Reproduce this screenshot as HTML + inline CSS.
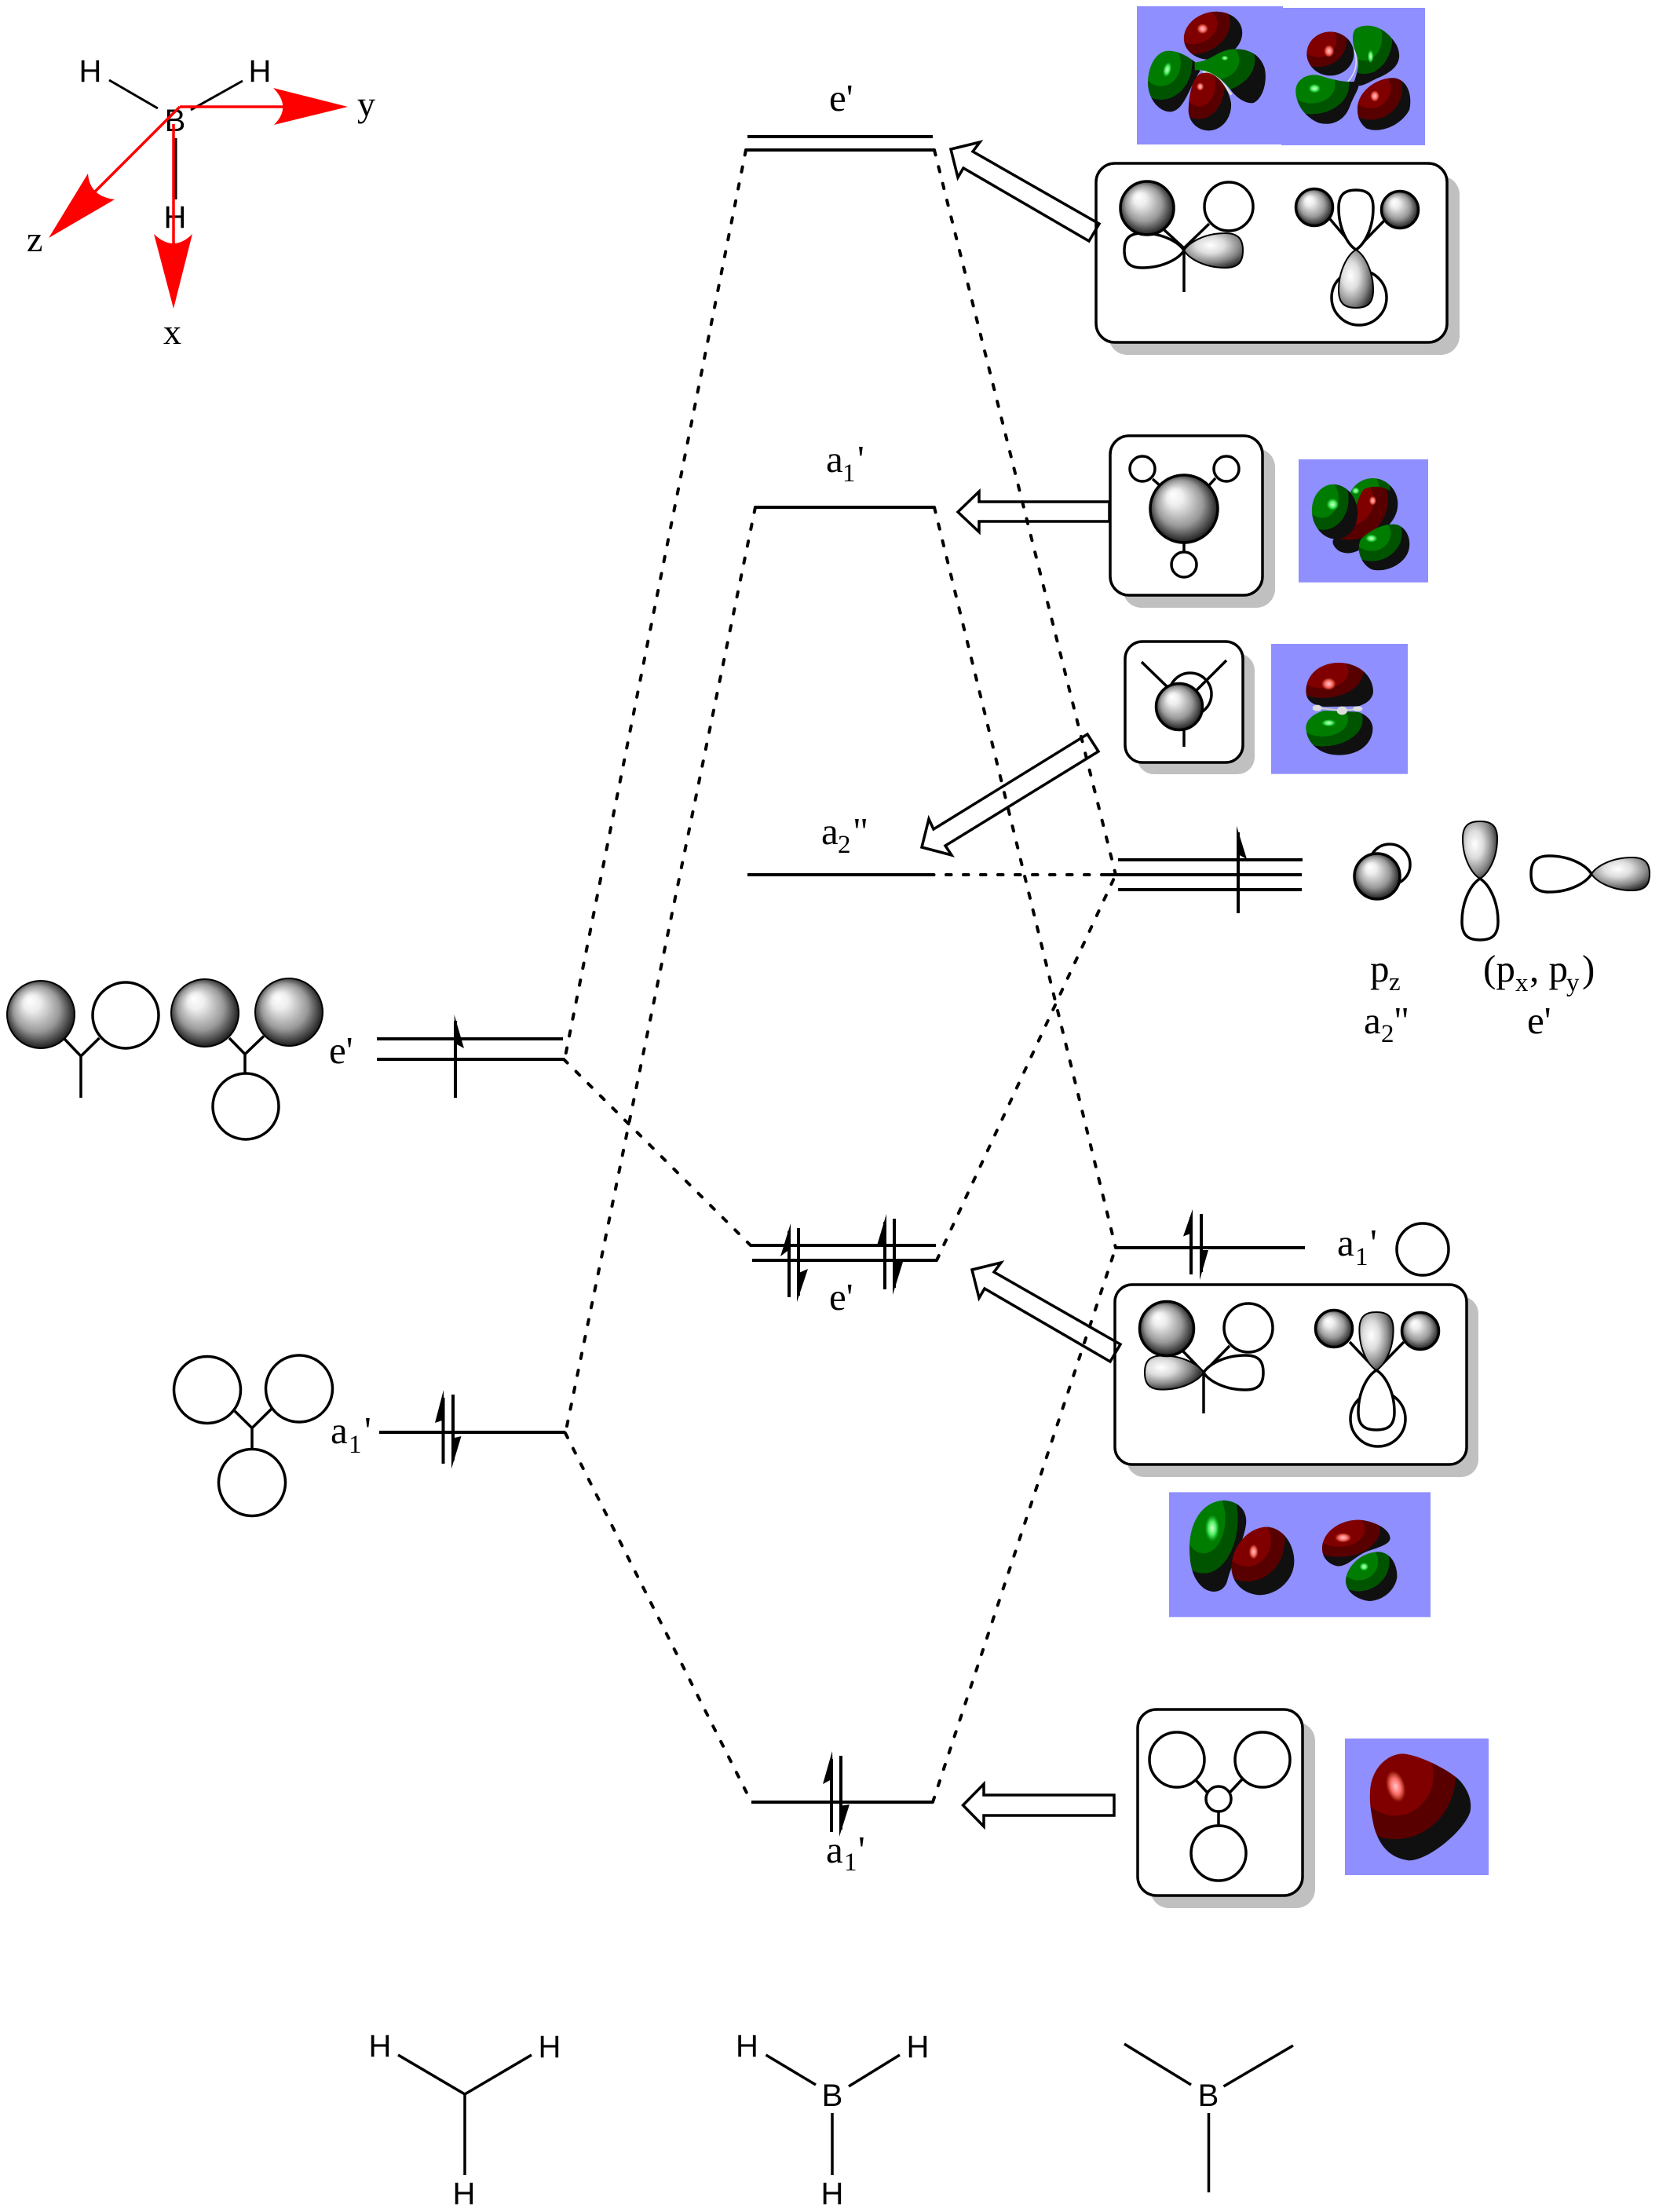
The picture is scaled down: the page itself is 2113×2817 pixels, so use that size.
<!DOCTYPE html>
<html lang="en">
<head>
<meta charset="utf-8">
<title>BH3 molecular orbital diagram</title>
<style>
html,body{margin:0;padding:0;background:#fff}
svg{display:block}
.s{font-family:"Liberation Serif",serif;font-size:49px;fill:#000}
.u{font-family:"Liberation Serif",serif;font-size:33px;fill:#000}
.h{font-family:"Liberation Sans",sans-serif;font-size:40px;fill:#000;text-anchor:middle}
.k{stroke:#000;stroke-width:3.5;fill:none}
.o{stroke:#000;stroke-width:3.5;fill:#fff}
.lv{stroke:#000;stroke-width:4;fill:none}
.d{stroke:#000;stroke-width:4;fill:none;stroke-dasharray:6.5 15.5;stroke-linecap:round}
.b{stroke:#000;stroke-width:3.5;fill:#fff}
.sh{fill:#c0c0c0}
.e{stroke:#000;stroke-width:3;fill:none}
.ar{fill:#000;stroke:none}
.p{fill:#8f8fff}
</style>
</head>
<body>
<svg xmlns="http://www.w3.org/2000/svg" width="2113" height="2817" viewBox="0 0 2113 2817">
<defs>
<radialGradient id="S" cx=".5" cy=".5" r=".55" fx=".33" fy=".28"><stop offset="0" stop-color="#fff"/><stop offset=".22" stop-color="#eee"/><stop offset=".62" stop-color="#999"/><stop offset=".88" stop-color="#333"/><stop offset="1" stop-color="#000"/></radialGradient>
<radialGradient id="GR" cx=".45" cy=".35" r=".68"><stop offset="0" stop-color="#fff"/><stop offset=".35" stop-color="#ddd"/><stop offset=".72" stop-color="#888"/><stop offset="1" stop-color="#333"/></radialGradient>
<radialGradient id="GL" cx=".72" cy=".65" r=".68"><stop offset="0" stop-color="#fff"/><stop offset=".35" stop-color="#ddd"/><stop offset=".72" stop-color="#888"/><stop offset="1" stop-color="#333"/></radialGradient>
<radialGradient id="GU" cx=".6" cy=".35" r=".68"><stop offset="0" stop-color="#fff"/><stop offset=".35" stop-color="#ddd"/><stop offset=".72" stop-color="#888"/><stop offset="1" stop-color="#333"/></radialGradient>
<radialGradient id="GD" cx=".45" cy=".65" r=".68"><stop offset="0" stop-color="#fff"/><stop offset=".35" stop-color="#ddd"/><stop offset=".72" stop-color="#888"/><stop offset="1" stop-color="#333"/></radialGradient>
<radialGradient id="R" cx=".25" cy=".2" r="1"><stop offset="0" stop-color="#800000"/><stop offset=".38" stop-color="#800000"/><stop offset=".38" stop-color="#580000"/><stop offset=".6" stop-color="#580000"/><stop offset=".6" stop-color="#101010"/></radialGradient>
<radialGradient id="G" cx=".25" cy=".2" r="1"><stop offset="0" stop-color="#007c00"/><stop offset=".38" stop-color="#007c00"/><stop offset=".38" stop-color="#005400"/><stop offset=".6" stop-color="#005400"/><stop offset=".6" stop-color="#101010"/></radialGradient>
<radialGradient id="HR"><stop offset="0" stop-color="#ffc8c8"/><stop offset=".5" stop-color="#ff7070"/><stop offset=".8" stop-color="#b03020"/><stop offset="1" stop-color="#a02010" stop-opacity="0"/></radialGradient>
<radialGradient id="HG"><stop offset="0" stop-color="#d8ffd8"/><stop offset=".5" stop-color="#50f060"/><stop offset=".8" stop-color="#10a020"/><stop offset="1" stop-color="#10a020" stop-opacity="0"/></radialGradient>
<path id="lobe" vector-effect="non-scaling-stroke" d="M0,0 C8,-9 34,-20 70,-20 C94,-20 100,-12 100,0 C100,12 94,20 70,20 C34,20 8,9 0,0Z"/>
</defs>

<!-- dashed correlation lines -->
<path class="d" d="M950,191 L720,1345"/>
<path class="d" d="M962,646 L720,1826"/>
<path class="d" d="M1190,191 L1421,1114"/>
<path class="d" d="M1190,646 L1421,1589"/>
<path class="d" d="M1183,1114 L1421,1114"/>
<path class="d" d="M718,1349 L956,1586"/>
<path class="d" d="M1193,1605 L1421,1114"/>
<path class="d" d="M720,1825 L957,2295"/>
<path class="d" d="M1188,2295 L1421,1589"/>

<!-- energy levels -->
<path class="lv" d="M952,174H1188M950,191H1190M962,646H1190M952,1114H1183M1424,1095H1659M1409,1114H1658M1424,1133H1658M480,1323H717M480,1349H717M956,1586H1192M958,1605H1193M483,1824H720M1420,1589H1662M957,2295H1188"/>

<!-- electron arrows -->
<g>
<path class="lv" d="M1577,1163V1060"/><path class="ar" d="M1575,1052L1588,1094L1575,1087Z"/>
<path class="lv" d="M580,1398V1300"/><path class="ar" d="M578.5,1292L591,1335L580,1329Z"/>
<path class="lv" d="M564.5,1864V1780M577,1776V1860"/><path class="ar" d="M565,1770L566,1808L554,1812ZM575,1870.5L575,1832L587.5,1829Z"/>
<path class="lv" d="M1005,1652V1568M1017,1564V1650"/><path class="ar" d="M1007,1558L1007,1590L994,1600ZM1015,1658L1015,1622L1029,1616Z"/>
<path class="lv" d="M1127,1642V1556M1139,1552V1640"/><path class="ar" d="M1129,1546L1129,1586L1117,1586ZM1137,1649L1137,1607L1150,1607Z"/>
<path class="lv" d="M1517,1623V1550M1530,1546V1620"/><path class="ar" d="M1519,1540L1519,1570L1507,1574.5ZM1528,1630L1528,1592L1539,1592Z"/>
<path class="lv" d="M1059,2333V2240M1071,2236V2330"/><path class="ar" d="M1060,2230L1061,2265L1048,2272ZM1069,2339L1069,2300L1082,2298Z"/>
</g>

<!-- top left axis system -->
<path class="e" d="M139,102L201,138M243,140L309,103M224,176V254"/>
<text class="h" x="115" y="104">H</text>
<text class="h" x="331" y="104">H</text>
<text class="h" x="223" y="167">B</text>
<text class="h" x="223" y="290">H</text>
<path fill="none" stroke="#f00" stroke-width="3.5" d="M229,136H362M229,136L120,245M221,158V312"/>
<path fill="#f00" d="M443,136L348,112Q372,136 349,159Z"/>
<path fill="#f00" d="M62,303L112,221Q114,250 146,254Z"/>
<path fill="#f00" d="M221,393L196,298Q221,322 245,298Z"/>
<text class="s" style="font-size:46px" x="455" y="148">y</text>
<text class="s" style="font-size:46px" x="208" y="438">x</text>
<text class="s" style="font-size:46px" x="34" y="320">z</text>

<!-- level labels -->
<text class="s" x="1056" y="141">e'</text>
<text class="s" x="1052" y="601">a</text><text class="u" x="1073" y="613">1</text><text class="s" x="1092" y="601">'</text>
<text class="s" x="1046" y="1075">a</text><text class="u" x="1067" y="1086">2</text><text class="s" x="1086" y="1075">"</text>
<text class="s" x="419" y="1354">e'</text>
<text class="s" x="421" y="1838">a</text><text class="u" x="444" y="1850">1</text><text class="s" x="464" y="1838">'</text>
<text class="s" x="1056" y="1668">e'</text>
<text class="s" x="1703" y="1599">a</text><text class="u" x="1726" y="1611">1</text><text class="s" x="1745" y="1599">'</text>
<text class="s" x="1052" y="2372">a</text><text class="u" x="1075" y="2382">1</text><text class="s" x="1093" y="2372">'</text>
<text class="s" x="1745" y="1250">p</text><text class="u" x="1769" y="1261">z</text>
<text class="s" x="1737" y="1316">a</text><text class="u" x="1759" y="1327">2</text><text class="s" x="1775" y="1316">"</text>
<text class="s" x="1889" y="1250">(p</text><text class="u" x="1930" y="1262">x</text><text class="s" x="1948" y="1250">, p</text><text class="u" x="1995" y="1262">y</text><text class="s" x="2015" y="1250">)</text>
<text class="s" x="1945" y="1316">e'</text>

<!-- left fragment orbitals -->
<path class="e" style="stroke-width:3.5" d="M82,1323L103,1345L126.5,1322M103,1345V1398M292,1322L312,1342.5L336,1319.5M312,1342.5V1367M299,1797L321,1818.6L346,1794M321,1818.6V1845"/>
<circle cx="52" cy="1292" r="43" fill="url(#S)" stroke="#000" stroke-width="2"/>
<circle class="o" cx="160" cy="1293" r="42"/>
<circle cx="261" cy="1290" r="43" fill="url(#S)" stroke="#000" stroke-width="2"/>
<circle cx="368" cy="1289" r="43" fill="url(#S)" stroke="#000" stroke-width="2"/>
<circle class="o" cx="313" cy="1409" r="42"/>
<circle class="o" cx="264" cy="1770" r="42.5"/>
<circle class="o" cx="381" cy="1768.5" r="42.5"/>
<circle class="o" cx="321" cy="1888" r="42.5"/>

<!-- free boron orbitals -->
<circle class="o" cx="1770" cy="1101" r="26"/>
<ellipse cx="1754" cy="1116" rx="29" ry="29" fill="url(#S)" stroke="#000" stroke-width="3.5"/>
<use href="#lobe" transform="translate(1885 1119) rotate(-90) scale(.73 1.1)" fill="url(#GU)" stroke="#000" stroke-width="2"/>
<use href="#lobe" transform="translate(1885 1119) rotate(90) scale(.78 1.15)" fill="#fff" stroke="#000" stroke-width="3.5"/>
<use href="#lobe" transform="translate(2027 1113) rotate(180) scale(.77 1.15)" fill="#fff" stroke="#000" stroke-width="3.5"/>
<use href="#lobe" transform="translate(2027 1113) scale(.74 1.05)" fill="url(#GR)" stroke="#000" stroke-width="2"/>
<circle class="o" cx="1812" cy="1591" r="33"/>

<!-- top e' box -->
<rect class="sh" x="1412" y="224" width="447" height="228" rx="24"/>
<rect class="b" x="1396" y="208" width="447" height="228" rx="24"/>
<path class="k" d="M1483,293L1508,316L1540,285M1508,316V372"/>
<use href="#lobe" transform="translate(1508 319) rotate(180) scale(.76 1.1)" fill="#fff" stroke="#000" stroke-width="3.5"/>
<use href="#lobe" transform="translate(1508 319) scale(.75 1.1)" fill="url(#GR)" stroke="#000" stroke-width="2"/>
<circle cx="1461" cy="265" r="34" fill="url(#S)" stroke="#000" stroke-width="3.5"/>
<circle class="o" cx="1565" cy="263" r="31"/>
<path class="k" d="M1694,279L1727,318L1763,281"/>
<circle class="o" cx="1731" cy="379" r="35"/>
<use href="#lobe" transform="translate(1727 318) rotate(-90) scale(.76 1.1)" fill="#fff" stroke="#000" stroke-width="3.5"/>
<use href="#lobe" transform="translate(1727 318) rotate(90) scale(.74 1.1)" fill="url(#GD)" stroke="#000" stroke-width="2"/>
<circle cx="1674" cy="264" r="23.5" fill="url(#S)" stroke="#000" stroke-width="3.5"/>
<circle cx="1783" cy="267" r="23.5" fill="url(#S)" stroke="#000" stroke-width="3.5"/>

<!-- a1' upper box -->
<rect class="sh" x="1430" y="571" width="194" height="203" rx="24"/>
<rect class="b" x="1414" y="555" width="194" height="203" rx="24"/>
<path class="k" d="M1468,610L1477,618M1540,618L1548,609M1508,692V702"/>
<circle class="o" cx="1455" cy="597" r="16"/>
<circle class="o" cx="1562" cy="597" r="16"/>
<circle class="o" cx="1508" cy="719" r="16"/>
<circle cx="1508" cy="648" r="43" fill="url(#S)" stroke="#000" stroke-width="3.5"/>

<!-- a2'' box -->
<rect class="sh" x="1448" y="832" width="150" height="154" rx="22"/>
<rect class="b" x="1433" y="817" width="150" height="154" rx="22"/>
<path class="k" d="M1454,843L1487,875M1562,841L1523,880M1508,928V951"/>
<circle class="k" cx="1516" cy="884" r="27"/>
<circle cx="1502" cy="900" r="29.5" fill="url(#S)" stroke="#000" stroke-width="3.5"/>

<!-- lower e' box -->
<rect class="sh" x="1435" y="1651" width="448" height="230" rx="22"/>
<rect class="b" x="1420" y="1636" width="448" height="229" rx="22"/>
<path class="k" d="M1507,1721L1533,1748L1566,1714M1533,1748V1800"/>
<use href="#lobe" transform="translate(1533 1748) rotate(180) scale(.75 1.08)" fill="url(#GL)" stroke="#000" stroke-width="2"/>
<use href="#lobe" transform="translate(1533 1748) scale(.76 1.1)" fill="#fff" stroke="#000" stroke-width="3.5"/>
<circle cx="1486" cy="1692" r="34.5" fill="url(#S)" stroke="#000" stroke-width="3.5"/>
<circle class="o" cx="1590" cy="1691" r="31"/>
<path class="k" d="M1719,1709L1753,1745L1788,1709"/>
<circle class="o" cx="1755" cy="1807" r="35"/>
<use href="#lobe" transform="translate(1753 1745) rotate(-90) scale(.74 1.08)" fill="url(#GU)" stroke="#000" stroke-width="2"/>
<use href="#lobe" transform="translate(1753 1745) rotate(90) scale(.76 1.15)" fill="#fff" stroke="#000" stroke-width="3.5"/>
<circle cx="1699" cy="1692" r="23.5" fill="url(#S)" stroke="#000" stroke-width="3.5"/>
<circle cx="1809" cy="1695" r="23.5" fill="url(#S)" stroke="#000" stroke-width="3.5"/>

<!-- bottom a1' box -->
<rect class="sh" x="1465" y="2193" width="210" height="237" rx="24"/>
<rect class="b" x="1449" y="2177" width="210" height="237" rx="24"/>
<path class="k" d="M1523,2267L1537,2282M1582,2266L1567,2282M1552,2308V2325"/>
<circle class="o" cx="1499" cy="2241" r="35"/>
<circle class="o" cx="1608" cy="2241" r="35"/>
<circle class="o" cx="1552" cy="2360" r="35"/>
<circle class="o" cx="1552" cy="2291" r="16"/>

<!-- hollow arrows -->
<path class="k" stroke-linejoin="miter" d="M1211,190L1248,181L1239,193L1400,285L1387,307L1227,214L1220,226Z"/>
<path class="k" d="M1220,652L1247,626V639H1413V664H1247V677.5Z"/>
<path class="k" d="M1174,1079L1183,1043L1189,1056L1385,935L1399,957L1204,1077L1212,1089Z"/>
<path class="k" d="M1238,1617L1275,1608L1266,1620L1427,1712L1414,1734L1254,1641L1247,1653Z"/>
<path class="k" d="M1226.5,2299L1253,2272V2286H1419V2312H1253V2326Z"/>

<!-- MO panels : top e' -->
<g transform="translate(1380 0) scale(.33333)">
<rect class="p" x="204" y="24" width="558" height="528"/>
<rect class="p" x="756" y="30" width="549" height="525"/>
<path fill="none" stroke="#ddd" stroke-width="9" d="M455,273C490,270 540,320 565,362"/>
<ellipse cx="495" cy="136" rx="113" ry="90" transform="rotate(-15 495 136)" fill="url(#R)"/>
<path fill="url(#G)" d="M430,240C380,200 340,190 310,196C265,210 245,270 246,320C248,380 290,428 332,427C385,425 405,330 445,272Z"/>
<path fill="url(#G)" d="M425,238C490,235 510,192 570,188C620,185 672,200 692,260C702,300 692,372 650,393C628,398 590,382 560,340C520,290 470,262 425,268Z"/>
<path fill="url(#R)" d="M450,280C420,290 403,350 401,420C401,470 440,499 480,499C530,497 567,450 564,395C557,340 510,278 470,278Z"/>
<ellipse cx="455" cy="110" rx="22" ry="20" fill="url(#HR)"/>
<ellipse cx="320" cy="266" rx="16" ry="30" transform="rotate(15 320 266)" fill="url(#HG)"/>
<ellipse cx="540" cy="222" rx="14" ry="10" fill="url(#HG)"/>
<ellipse cx="446" cy="331" rx="14" ry="16" fill="url(#HR)"/>
<path fill="none" stroke="#ddd" stroke-width="5" d="M1035,190C1050,240 1040,280 1010,312M940,305L980,313"/>
<ellipse cx="943" cy="205" rx="90" ry="84" fill="url(#R)"/>
<path fill="url(#G)" d="M1040,110C1080,85 1150,95 1195,170C1225,230 1195,270 1120,300C1080,320 1060,335 1030,325C1045,280 1060,240 1040,200C1025,160 1025,125 1040,110Z"/>
<path fill="url(#G)" d="M811,340C818,298 860,280 900,288C950,303 1000,318 1045,310C1062,330 1040,350 1020,400C1000,462 950,482 900,470C850,450 808,400 811,340Z"/>
<path fill="url(#R)" d="M1048,400C1058,340 1130,293 1190,298C1242,308 1257,370 1245,420C1212,482 1130,512 1080,490C1053,468 1043,440 1048,400Z"/>
<ellipse cx="938" cy="195" rx="20" ry="24" fill="url(#HR)"/>
<ellipse cx="1097" cy="215" rx="12" ry="26" fill="url(#HG)"/>
<ellipse cx="883" cy="338" rx="24" ry="18" fill="url(#HG)"/>
<ellipse cx="1113" cy="367" rx="18" ry="22" fill="url(#HR)"/>
</g>

<!-- MO panels : a1' and a2'' -->
<g transform="translate(1400 540) scale(.33333)">
<rect class="p" x="762" y="135" width="495" height="470"/>
<ellipse cx="1045" cy="305" rx="96" ry="98" fill="url(#G)"/>
<path fill="url(#R)" d="M1010,250C1050,230 1100,240 1120,265L1140,310C1140,360 1100,400 1050,430C1000,500 930,510 900,470C880,440 900,430 950,420C970,370 980,290 1010,250Z"/>
<ellipse cx="900" cy="335" rx="87" ry="105" transform="rotate(-8 900 335)" fill="url(#G)"/>
<path fill="url(#G)" d="M1000,440C1040,400 1100,375 1140,385C1180,400 1195,450 1180,490C1160,540 1090,570 1040,555C1000,535 980,480 1000,440Z"/>
<ellipse cx="892" cy="307" rx="24" ry="24" fill="url(#HG)"/>
<ellipse cx="980" cy="255" rx="16" ry="14" fill="url(#HG)"/>
<ellipse cx="1045" cy="293" rx="14" ry="18" fill="url(#HR)"/>
<ellipse cx="1040" cy="437" rx="24" ry="16" fill="url(#HG)"/>
<rect class="p" x="657" y="840" width="522" height="497"/>
<path fill="url(#R)" d="M790,1020C790,960 840,912 915,912C990,912 1045,960 1047,1020C1047,1050 1020,1070 990,1078L860,1080C820,1075 790,1060 790,1020Z"/>
<path fill="url(#G)" d="M790,1160C790,1130 820,1105 860,1095L990,1100C1030,1115 1047,1140 1045,1170C1040,1225 990,1265 915,1265C840,1265 790,1215 790,1160Z"/>
<path fill="none" stroke="#ccc" stroke-width="6" d="M835,1085L930,1095L990,1088"/>
<ellipse cx="833" cy="1085" rx="18" ry="12" fill="#ddd"/>
<ellipse cx="928" cy="1095" rx="20" ry="16" fill="#ddd"/>
<ellipse cx="988" cy="1088" rx="18" ry="10" fill="#ddd"/>
<ellipse cx="877" cy="993" rx="28" ry="24" fill="url(#HR)"/>
<ellipse cx="877" cy="1142" rx="28" ry="14" fill="url(#HG)"/>
</g>

<!-- MO panels : lower e' -->
<g transform="translate(1400 1540) scale(.33333 .34483)">
<rect class="p" x="267" y="1045" width="999" height="461"/>
<path fill="url(#G)" d="M345,1250C345,1150 400,1075 480,1075C540,1080 570,1120 560,1170C550,1230 510,1300 490,1370C480,1410 440,1425 400,1400C360,1370 345,1320 345,1250Z"/>
<path fill="url(#R)" d="M505,1320C510,1240 570,1175 640,1173C700,1175 745,1235 745,1300C745,1370 680,1425 610,1425C550,1420 505,1380 505,1320Z"/>
<path fill="url(#R)" d="M852,1250C855,1190 920,1148 990,1147C1050,1150 1110,1180 1112,1215C1110,1240 1060,1250 1020,1265C980,1280 950,1320 910,1318C870,1310 850,1280 852,1250Z"/>
<path fill="url(#G)" d="M942,1370C945,1320 1000,1265 1070,1265C1120,1270 1140,1320 1138,1360C1130,1410 1080,1447 1030,1447C980,1440 940,1410 942,1370Z"/>
<ellipse cx="432" cy="1178" rx="28" ry="50" fill="url(#HG)"/>
<ellipse cx="590" cy="1265" rx="18" ry="28" fill="url(#HR)"/>
<ellipse cx="932" cy="1213" rx="32" ry="18" fill="url(#HR)"/>
<ellipse cx="1012" cy="1320" rx="18" ry="16" fill="url(#HG)"/>
</g>

<!-- MO panels : bottom a1' -->
<g transform="translate(1420 2160) scale(.33333)">
<rect class="p" x="879" y="162" width="549" height="522"/>
<path fill="url(#R)" d="M975,370C975,290 1030,222 1100,220C1170,225 1290,290 1320,325C1350,360 1365,400 1358,440C1340,510 1200,628 1125,628C1050,620 1010,570 990,500C980,450 972,410 975,370Z"/>
<ellipse cx="1073" cy="345" rx="36" ry="62" transform="rotate(-15 1073 345)" fill="url(#HR)"/>
</g>

<!-- bottom structures -->
<path class="e" style="stroke-width:3.5" d="M507,2617L592,2667L677,2617M592,2667V2770"/>
<path class="e" style="stroke-width:3.5" d="M975.5,2617L1039,2655M1146,2617L1081,2657M1060,2691V2770"/>
<path class="e" style="stroke-width:3.5" d="M1432,2603L1517,2655M1647,2605L1558.5,2657M1539.5,2691V2792"/>
<text class="h" x="484" y="2619">H</text>
<text class="h" x="700" y="2620">H</text>
<text class="h" x="591" y="2807">H</text>
<text class="h" x="951.5" y="2619">H</text>
<text class="h" x="1169" y="2620">H</text>
<text class="h" x="1060" y="2682">B</text>
<text class="h" x="1060" y="2807">H</text>
<text class="h" x="1539" y="2682">B</text>
</svg>
</body>
</html>
